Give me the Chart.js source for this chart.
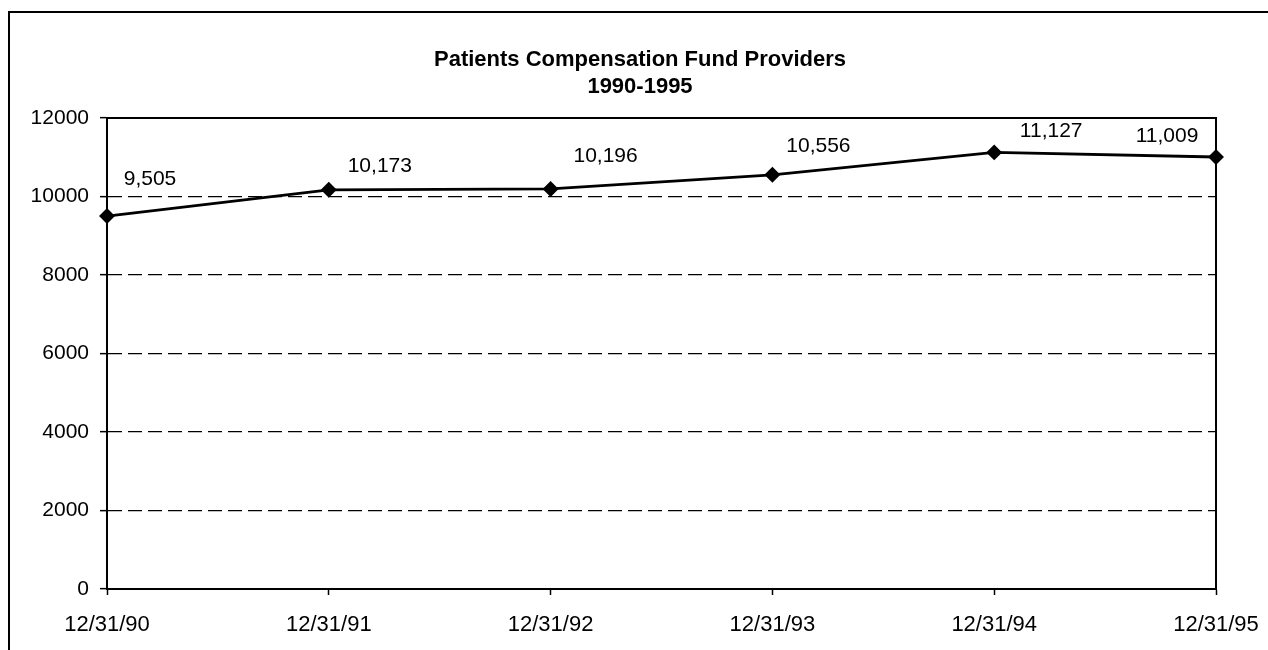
<!DOCTYPE html>
<html>
<head>
<meta charset="utf-8">
<script src="https://cdn.jsdelivr.net/npm/chart.js@4/dist/chart.umd.min.js"></script>
<style>
  html, body { margin: 0; padding: 0; background: #fff; overflow: hidden; }
  #wrap { position: relative; width: 1268px; height: 650px; overflow: hidden; }
  #frame { position: absolute; left: 8px; top: 11px; width: 1400px; height: 800px; border-left: 2px solid #000; border-top: 2px solid #000; }
  #c { position: absolute; left: 0; top: 0; }
</style>
</head>
<body>
<div id="wrap">
  <div id="frame"></div>
  <canvas id="c" width="1280" height="650"></canvas>
</div>
<script>
const categories = ['12/31/90', '12/31/91', '12/31/92', '12/31/93', '12/31/94', '12/31/95'];
const providers = [9505, 10173, 10196, 10556, 11127, 11009];
const titleLines = ['Patients Compensation Fund Providers', '1990-1995'];
const yMin = 0, yMax = 12000, yStep = 2000;

const labelOffsets = [[43, -37], [51, -24], [55, -33], [46, -29], [57, -21], [-49, -21]];
const FONT = '"Liberation Sans", Arial, sans-serif';

const pointLabels = {
  id: 'pointLabels',
  afterDatasetsDraw(chart) {
    const ctx = chart.ctx;
    const meta = chart.getDatasetMeta(0);
    ctx.save();
    ctx.font = '21px ' + FONT;
    ctx.fillStyle = '#000';
    ctx.textAlign = 'center';
    ctx.textBaseline = 'middle';
    meta.data.forEach((pt, i) => {
      const v = chart.data.datasets[0].data[i];
      const o = labelOffsets[i];
      ctx.fillText(v.toLocaleString('en-US'), pt.x + o[0], pt.y + o[1]);
    });
    ctx.restore();
  }
};

const plotBox = {
  id: 'plotBox',
  beforeDatasetsDraw(chart) {
    const a = chart.chartArea, ctx = chart.ctx;
    ctx.save();
    ctx.strokeStyle = '#000';
    ctx.lineWidth = 2;
    ctx.beginPath();
    ctx.moveTo(a.left, a.top);
    ctx.lineTo(a.right, a.top);
    ctx.lineTo(a.right, a.bottom);
    ctx.stroke();
    ctx.restore();
  }
};

new Chart(document.getElementById('c'), {
  type: 'line',
  data: {
    labels: categories,
    datasets: [{
      data: providers,
      borderColor: '#000',
      backgroundColor: '#000',
      borderWidth: 2.8,
      pointStyle: 'rectRot',
      pointRadius: 6,
      pointHoverRadius: 6,
      pointBackgroundColor: '#000',
      pointBorderColor: '#000',
      tension: 0,
      fill: false
    }]
  },
  options: {
    responsive: false,
    animation: false,
    events: [],
    layout: { padding: { left: 0, right: 0, top: 34, bottom: 0 } },
    plugins: {
      legend: { display: false },
      tooltip: { enabled: false },
      title: {
        display: true,
        text: titleLines,
        color: '#000',
        font: { family: FONT, size: 22, weight: 'bold', lineHeight: 1.23 },
        padding: { top: 12, bottom: 18 }
      }
    },
    scales: {
      x: {
        offset: false,
        grid: { display: true, drawOnChartArea: false, drawTicks: true, tickLength: 6, tickColor: '#000', tickWidth: 1.5 },
        border: { display: true, color: '#000', width: 2 },
        ticks: { color: '#000', padding: 17, maxRotation: 0, autoSkip: false,
          font: { family: FONT, size: 22 } },
        afterFit(s) { s.height = 61; }
      },
      y: {
        min: yMin, max: yMax,
        grid: { color: '#000', lineWidth: 1.3, drawTicks: true, tickLength: 7, tickColor: '#000', tickWidth: 1.5, tickBorderDash: [] },
        border: { display: true, color: '#000', width: 2, dash: [14, 6] },
        ticks: { stepSize: yStep, color: '#000', padding: 11,
          callback: (v) => String(v),
          font: { family: FONT, size: 21 } },
        afterFit(s) { s.width = 107; }
      },
      yRight: {
        position: 'right',
        min: yMin, max: yMax,
        grid: { display: false, drawTicks: false },
        border: { display: false },
        ticks: { display: false },
        afterFit(s) { s.width = 64; }
      }
    }
  },
  plugins: [plotBox, pointLabels]
});
</script>
</body>
</html>
